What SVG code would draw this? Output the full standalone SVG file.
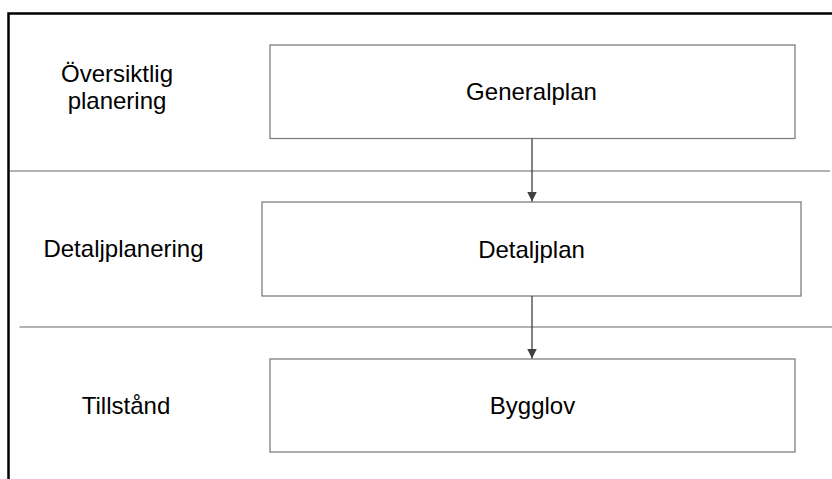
<svg xmlns="http://www.w3.org/2000/svg" width="832" height="479" viewBox="0 0 832 479">
  <style>
    .frame { fill: none; stroke: #000; stroke-width: 2.5; }
    .sep { stroke: #9a9a9a; stroke-width: 1.3; }
    .box { fill: #fff; stroke: #7f7f7f; stroke-width: 1.3; }
    .conn { stroke: #404040; stroke-width: 1.3; fill: none; }
    text { font-family: "Liberation Sans", Arial, sans-serif; font-size: 24px; fill: #000; text-anchor: middle; }
  </style>
  <defs>
    <marker id="arrow" markerWidth="10" markerHeight="10" refX="10" refY="5" orient="auto" markerUnits="userSpaceOnUse">
      <path d="M0,0 L10,5 L0,10 Z" fill="#404040"/>
    </marker>
  </defs>
  <rect width="832" height="479" fill="#fff"/>

  <!-- outer frame: top and left edges -->
  <path class="frame" d="M8.5,479 V13.5 H832"/>

  <!-- lane separators -->
  <line class="sep" x1="10" y1="171" x2="830" y2="171"/>
  <line class="sep" x1="19.5" y1="327" x2="832" y2="327"/>

  <!-- lane labels -->
  <g id="lane-oversiktlig">
    <text x="117" y="82">Översiktlig</text>
    <text x="117" y="109">planering</text>
  </g>
  <g id="lane-detalj">
    <text x="123.5" y="257">Detaljplanering</text>
  </g>
  <g id="lane-tillstand">
    <text x="126" y="414">Tillstånd</text>
  </g>

  <!-- nodes -->
  <g id="generalplan">
    <rect class="box" x="270" y="45" width="525" height="93.5"/>
    <text x="531.5" y="100">Generalplan</text>
  </g>
  <g id="detaljplan">
    <rect class="box" x="262" y="202" width="539" height="94"/>
    <text x="531.5" y="257.5">Detaljplan</text>
  </g>
  <g id="bygglov">
    <rect class="box" x="270" y="359" width="525" height="93"/>
    <text x="532.5" y="414">Bygglov</text>
  </g>

  <!-- connectors -->
  <g id="connectors">
    <line class="conn" x1="532" y1="138.5" x2="532" y2="201.5" marker-end="url(#arrow)"/>
    <line class="conn" x1="532" y1="296" x2="532" y2="358.5" marker-end="url(#arrow)"/>
  </g>
</svg>
